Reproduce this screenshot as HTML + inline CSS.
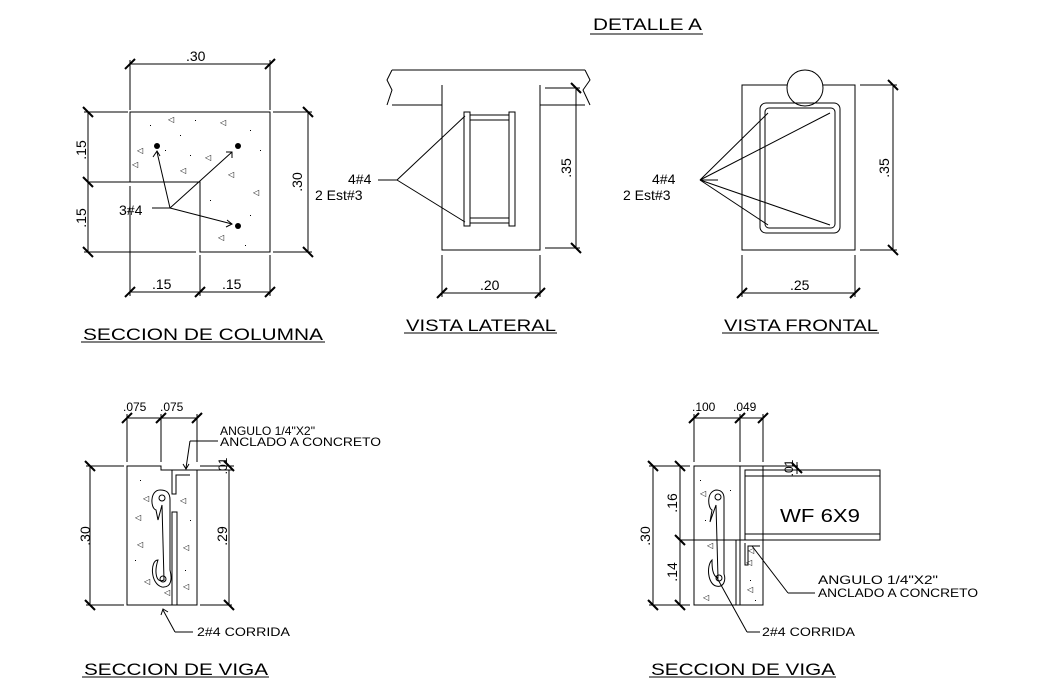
<!DOCTYPE html>
<html><head><meta charset="utf-8"><style>
html,body{margin:0;padding:0;background:#fff;}
svg{display:block;font-family:"Liberation Sans",sans-serif;}
text{fill:#000;}
</style></head><body>
<svg width="1039" height="682" viewBox="0 0 1039 682" xmlns="http://www.w3.org/2000/svg">
<g stroke="#000" stroke-width="1" fill="none">
<line x1="590" y1="34" x2="703" y2="34"/>
<line x1="81" y1="342" x2="325" y2="342"/>
<line x1="404" y1="333" x2="557" y2="333"/>
<line x1="722" y1="333" x2="879" y2="333"/>
<line x1="82" y1="677" x2="269" y2="677"/>
<line x1="649" y1="677" x2="836" y2="677"/>

<!-- COLUMN SECTION -->
<path d="M130 112 H270 V252 H200 V182 H130 Z"/>
<line x1="200" y1="182" x2="200" y2="252"/>
<line x1="88" y1="182" x2="200" y2="182"/>
<line x1="130" y1="64" x2="270" y2="64"/>
<line x1="130" y1="60" x2="130" y2="110"/><line x1="270" y1="60" x2="270" y2="110"/>
<line x1="88" y1="112" x2="88" y2="252"/>
<line x1="84" y1="112" x2="128" y2="112"/><line x1="84" y1="252" x2="196" y2="252"/>
<line x1="308" y1="112" x2="308" y2="252"/>
<line x1="273" y1="112" x2="312" y2="112"/><line x1="273" y1="252" x2="312" y2="252"/>
<line x1="130" y1="292" x2="270" y2="292"/>
<line x1="130" y1="186" x2="130" y2="296"/><line x1="200" y1="255" x2="200" y2="296"/><line x1="270" y1="255" x2="270" y2="296"/>
<g stroke-width="2">
<line x1="125" y1="69" x2="135" y2="59"/><line x1="265" y1="69" x2="275" y2="59"/>
<line x1="83" y1="107" x2="93" y2="117"/><line x1="83" y1="177" x2="93" y2="187"/><line x1="83" y1="247" x2="93" y2="257"/>
<line x1="303" y1="107" x2="313" y2="117"/><line x1="303" y1="247" x2="313" y2="257"/>
<line x1="125" y1="297" x2="135" y2="287"/><line x1="195" y1="297" x2="205" y2="287"/><line x1="265" y1="297" x2="275" y2="287"/>
</g>
<line x1="152" y1="208" x2="170" y2="208"/>
<line x1="170" y1="208" x2="157" y2="152"/>
<line x1="170" y1="208" x2="232" y2="152"/>
<line x1="170" y1="208" x2="232" y2="224"/>
<path d="M153 157 L157 151 L160 156"/>
<path d="M226 152 L232 152 L232 158"/>
<path d="M227 220 L232 224 L226 227"/>

<!-- VISTA LATERAL -->
<path d="M392 70 H585"/>
<path d="M392 105 H442 M540 105 H585"/>
<path d="M392 70 L387 80 L392 90 L387 105"/>
<path d="M585 70 L590 80 L583 90 L590 105"/>
<path d="M442 85 V250 H540 V85"/>
<rect x="464" y="112" width="6" height="114"/>
<rect x="509" y="112" width="6" height="114"/>
<line x1="470" y1="115" x2="509" y2="115"/><line x1="470" y1="120" x2="509" y2="120"/>
<line x1="470" y1="218" x2="509" y2="218"/><line x1="470" y1="223" x2="509" y2="223"/>
<line x1="378" y1="180" x2="397" y2="180"/>
<line x1="397" y1="180" x2="465" y2="116"/>
<line x1="397" y1="180" x2="465" y2="222"/>
<line x1="576" y1="88" x2="576" y2="248"/>
<line x1="545" y1="88" x2="580" y2="88"/><line x1="545" y1="248" x2="580" y2="248"/>
<line x1="442" y1="255" x2="442" y2="297"/><line x1="540" y1="255" x2="540" y2="297"/>
<line x1="442" y1="293" x2="540" y2="293"/>
<g stroke-width="2">
<line x1="571" y1="83" x2="581" y2="93"/><line x1="571" y1="243" x2="581" y2="253"/>
<line x1="437" y1="298" x2="447" y2="288"/><line x1="535" y1="298" x2="545" y2="288"/>
</g>

<!-- VISTA FRONTAL -->
<circle cx="805" cy="88" r="18"/>
<path d="M787 85 H742 V250 H855 V85 H823"/>
<rect x="760" y="103" width="80" height="130" rx="6"/>
<rect x="765" y="108" width="70" height="120" rx="4"/>
<line x1="700" y1="180" x2="718" y2="180"/>
<line x1="700" y1="180" x2="768" y2="113"/>
<line x1="700" y1="180" x2="830" y2="113"/>
<line x1="700" y1="180" x2="768" y2="225"/>
<line x1="700" y1="180" x2="830" y2="225"/>
<line x1="893" y1="85" x2="893" y2="250"/>
<line x1="860" y1="85" x2="897" y2="85"/><line x1="860" y1="250" x2="897" y2="250"/>
<line x1="742" y1="255" x2="742" y2="297"/><line x1="855" y1="255" x2="855" y2="297"/>
<line x1="742" y1="293" x2="855" y2="293"/>
<g stroke-width="2">
<line x1="888" y1="80" x2="898" y2="90"/><line x1="888" y1="245" x2="898" y2="255"/>
<line x1="737" y1="298" x2="747" y2="288"/><line x1="850" y1="298" x2="860" y2="288"/>
</g>

<!-- VIGA 1 -->
<path d="M127 466 H161 V470 H197 V605 H127 Z"/>
<path d="M172 470 V494 H176 V475 H190"/>
<rect x="172" y="512" width="5" height="93"/>
<path d="M160 490 C150 490 150 508 156 510 L158 520 L162 505 L164 580 C156 584 154 572 158 560 C150 560 150 584 162 587 C172 588 172 578 170 570 L170 500 C170 492 166 490 160 490 Z"/>
<circle cx="162" cy="498" r="3"/><circle cx="163" cy="579" r="3"/>
<line x1="127" y1="418" x2="197" y2="418"/>
<line x1="127" y1="414" x2="127" y2="462"/><line x1="161" y1="414" x2="161" y2="462"/><line x1="197" y1="414" x2="197" y2="462"/>
<line x1="90" y1="466" x2="90" y2="605"/>
<line x1="86" y1="466" x2="124" y2="466"/><line x1="86" y1="605" x2="124" y2="605"/>
<line x1="229" y1="470" x2="229" y2="605"/>
<line x1="200" y1="605" x2="232" y2="605"/><line x1="190" y1="470" x2="234" y2="470"/><line x1="200" y1="466" x2="234" y2="466"/>
<line x1="190" y1="441" x2="218" y2="441"/>
<line x1="190" y1="441" x2="186" y2="468"/>
<path d="M183 464 L186 469 L189 464"/>
<line x1="193" y1="632" x2="175" y2="632"/>
<line x1="175" y1="632" x2="163" y2="610"/>
<path d="M161 615 L163 609 L168 612"/>
<g stroke-width="2">
<line x1="122" y1="423" x2="132" y2="413"/><line x1="156" y1="423" x2="166" y2="413"/><line x1="192" y1="423" x2="202" y2="413"/>
<line x1="85" y1="461" x2="95" y2="471"/><line x1="85" y1="600" x2="95" y2="610"/>
<line x1="224" y1="461" x2="234" y2="471"/><line x1="224" y1="600" x2="234" y2="610"/>
</g>

<!-- VIGA 2 -->
<rect x="694" y="466" width="69" height="139"/>
<line x1="740" y1="466" x2="740" y2="540"/>
<line x1="680" y1="540" x2="763" y2="540"/>
<line x1="736" y1="540" x2="736" y2="605"/><line x1="740" y1="540" x2="740" y2="605"/>
<path d="M745 543 V565 H748 V546 H760"/>
<path d="M716 490 C706 492 708 508 712 510 L710 522 L716 505 L718 578 C712 576 712 566 712 560 C706 566 708 584 716 586 C724 588 726 580 724 574 L724 498 C724 492 720 490 716 490 Z"/>
<circle cx="718" cy="497" r="3"/><circle cx="719" cy="578" r="3"/>
<rect x="745" y="470" width="135" height="70"/>
<line x1="745" y1="476" x2="880" y2="476"/><line x1="745" y1="534" x2="880" y2="534"/>
<line x1="745" y1="466" x2="798" y2="466"/><line x1="745" y1="470" x2="798" y2="470"/>
<line x1="694" y1="418" x2="763" y2="418"/>
<line x1="694" y1="414" x2="694" y2="462"/><line x1="740" y1="414" x2="740" y2="462"/><line x1="763" y1="414" x2="763" y2="462"/>
<line x1="653" y1="466" x2="653" y2="605"/><line x1="680" y1="466" x2="680" y2="605"/>
<line x1="649" y1="466" x2="690" y2="466"/><line x1="649" y1="605" x2="690" y2="605"/>
<line x1="797" y1="462" x2="797" y2="474"/>
<line x1="815" y1="593" x2="788" y2="593"/>
<line x1="788" y1="593" x2="752" y2="546"/>
<line x1="760" y1="632" x2="747" y2="632"/>
<line x1="747" y1="632" x2="716" y2="576"/>
<g stroke-width="2">
<line x1="689" y1="423" x2="699" y2="413"/><line x1="735" y1="423" x2="745" y2="413"/><line x1="758" y1="423" x2="768" y2="413"/>
<line x1="648" y1="461" x2="658" y2="471"/><line x1="648" y1="600" x2="658" y2="610"/>
<line x1="675" y1="461" x2="685" y2="471"/><line x1="675" y1="535" x2="685" y2="545"/><line x1="675" y1="600" x2="685" y2="610"/>
<line x1="792" y1="463" x2="802" y2="473"/>
</g>
</g>

<g fill="#000">
<circle cx="157" cy="146" r="3"/><circle cx="238" cy="146" r="3"/><circle cx="238" cy="226" r="3"/>
</g>
<g fill="#000" font-size="8">
<text x="137" y="153">◁</text><text x="168" y="122">◁</text><text x="220" y="125">◁</text><text x="205" y="160">◁</text><text x="180" y="173">◁</text><text x="228" y="177">◁</text><text x="253" y="195">◁</text><text x="218" y="240">◁</text><text x="132" y="167">◁</text>
<text x="143" y="501">◁</text><text x="137" y="547">◁</text><text x="144" y="584">◁</text><text x="180" y="503">◁</text><text x="183" y="550">◁</text><text x="183" y="589">◁</text><text x="135" y="520">◁</text><text x="164" y="595">◁</text>
<text x="700" y="496">◁</text><text x="703" y="600">◁</text><text x="746" y="565">◁</text><text x="747" y="592">◁</text><text x="707" y="548">◁</text><text x="748" y="553">◁</text>
</g>
<g fill="#000">
<rect x="150" y="125" width="1" height="1"/><rect x="180" y="135" width="1" height="1"/><rect x="195" y="120" width="1" height="1"/><rect x="250" y="130" width="1" height="1"/><rect x="260" y="150" width="1" height="1"/><rect x="250" y="215" width="1" height="1"/><rect x="210" y="200" width="1" height="1"/><rect x="245" y="245" width="1" height="1"/><rect x="165" y="150" width="1" height="1"/><rect x="190" y="155" width="1" height="1"/>
<rect x="140" y="480" width="1" height="1"/><rect x="135" y="560" width="1" height="1"/><rect x="190" y="520" width="1" height="1"/><rect x="185" y="570" width="1" height="1"/>
<rect x="700" y="480" width="1" height="1"/><rect x="730" y="490" width="1" height="1"/><rect x="705" y="520" width="1" height="1"/><rect x="750" y="580" width="1" height="1"/><rect x="755" y="600" width="1" height="1"/>
</g>

<g font-size="17" fill="#000">
<text x="593" y="30" textLength="109" lengthAdjust="spacingAndGlyphs">DETALLE  A</text>
<text x="83" y="340" textLength="240" lengthAdjust="spacingAndGlyphs">SECCION  DE  COLUMNA</text>
<text x="406" y="331" textLength="150" lengthAdjust="spacingAndGlyphs">VISTA  LATERAL</text>
<text x="724" y="331" textLength="154" lengthAdjust="spacingAndGlyphs">VISTA  FRONTAL</text>
<text x="84" y="675" textLength="184" lengthAdjust="spacingAndGlyphs">SECCION  DE  VIGA</text>
<text x="651" y="675" textLength="184" lengthAdjust="spacingAndGlyphs">SECCION  DE  VIGA</text>
</g>
<g font-size="14" fill="#000">
<text x="186" y="61">.30</text>
<text x="152" y="289">.15</text>
<text x="222" y="289">.15</text>
<text x="119" y="215">3#4</text>
<text x="86" y="150" transform="rotate(-90 86 150)" text-anchor="middle">.15</text>
<text x="86" y="218" transform="rotate(-90 86 218)" text-anchor="middle">.15</text>
<text x="302" y="182" transform="rotate(-90 302 182)" text-anchor="middle">.30</text>
<text x="348" y="184">4#4</text>
<text x="315" y="200">2  Est#3</text>
<text x="571" y="168" transform="rotate(-90 571 168)" text-anchor="middle">.35</text>
<text x="480" y="290">.20</text>
<text x="652" y="184">4#4</text>
<text x="623" y="200">2  Est#3</text>
<text x="889" y="168" transform="rotate(-90 889 168)" text-anchor="middle">.35</text>
<text x="790" y="290">.25</text>
<text x="780" y="522" font-size="18" textLength="80" lengthAdjust="spacingAndGlyphs">WF  6X9</text>
</g>
<g font-size="12" fill="#000">
<text x="123" y="411">.075</text><text x="160" y="411">.075</text>
<text x="220" y="435" textLength="95" lengthAdjust="spacingAndGlyphs">ANGULO  1/4"X2"</text>
<text x="220" y="446" textLength="161" lengthAdjust="spacingAndGlyphs">ANCLADO  A  CONCRETO</text>
<text x="90" y="536" transform="rotate(-90 90 536)" text-anchor="middle" font-size="14">.30</text>
<text x="227" y="536" transform="rotate(-90 227 536)" text-anchor="middle" font-size="14">.29</text>
<text x="227" y="466" transform="rotate(-90 227 466)" text-anchor="middle">.01</text>
<text x="197" y="636" textLength="93" lengthAdjust="spacingAndGlyphs">2#4  CORRIDA</text>
<text x="692" y="411">.100</text><text x="733" y="411">.049</text>
<text x="793" y="468" transform="rotate(-90 793 468)" text-anchor="middle">.01</text>
<text x="650" y="536" transform="rotate(-90 650 536)" text-anchor="middle" font-size="14">.30</text>
<text x="677" y="503" transform="rotate(-90 677 503)" text-anchor="middle" font-size="14">.16</text>
<text x="677" y="572" transform="rotate(-90 677 572)" text-anchor="middle" font-size="14">.14</text>
<text x="818" y="584" textLength="120" lengthAdjust="spacingAndGlyphs">ANGULO  1/4"X2"</text>
<text x="818" y="597" textLength="160" lengthAdjust="spacingAndGlyphs">ANCLADO  A  CONCRETO</text>
<text x="762" y="636" textLength="93" lengthAdjust="spacingAndGlyphs">2#4  CORRIDA</text>
</g>
</svg>
</body></html>
